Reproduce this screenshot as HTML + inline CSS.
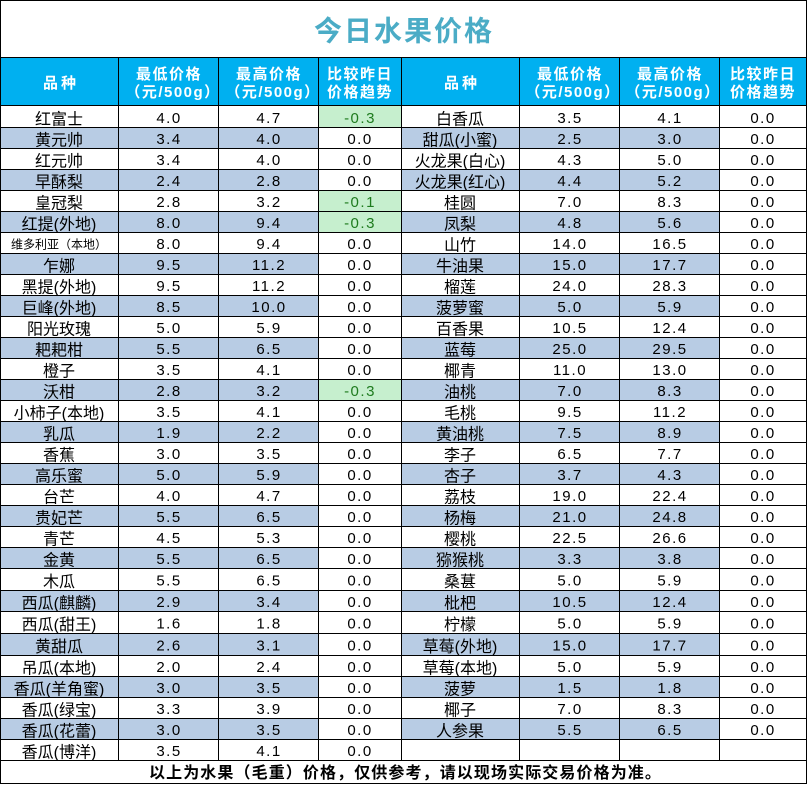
<!DOCTYPE html>
<html><head><meta charset="utf-8">
<style>
html,body{margin:0;padding:0;background:#fff;}
svg{display:block;}
.n{font-family:"Liberation Sans","Noto Sans CJK SC",sans-serif;font-size:16px;text-anchor:middle;fill:#000;}
.s{font-family:"Liberation Sans","Noto Sans CJK SC",sans-serif;font-size:12px;text-anchor:middle;fill:#000;}
.d{font-family:"Liberation Sans",sans-serif;font-size:15px;letter-spacing:1.5px;text-anchor:middle;fill:#000;}
.g{fill:#1e7b1e;}
.h{font-family:"Liberation Sans","Noto Sans CJK SC",sans-serif;font-size:15px;font-weight:bold;letter-spacing:1.5px;text-anchor:middle;fill:#fff;}
</style></head>
<body>
<svg width="808" height="785" viewBox="0 0 808 785" xmlns="http://www.w3.org/2000/svg">
<rect x="0" y="0" width="808" height="785" fill="#fff"/>
<rect x="0" y="57" width="807" height="49" fill="#00b0f0"/>
<g fill="#b8cce4">
<rect x="0" y="127" width="318" height="21"/><rect x="401" y="127" width="318" height="21"/>
<rect x="0" y="169" width="318" height="21"/><rect x="401" y="169" width="318" height="21"/>
<rect x="0" y="211" width="318" height="21"/><rect x="401" y="211" width="318" height="21"/>
<rect x="0" y="253" width="318" height="21"/><rect x="401" y="253" width="318" height="21"/>
<rect x="0" y="295" width="318" height="21"/><rect x="401" y="295" width="318" height="21"/>
<rect x="0" y="337" width="318" height="21"/><rect x="401" y="337" width="318" height="21"/>
<rect x="0" y="379" width="318" height="21"/><rect x="401" y="379" width="318" height="21"/>
<rect x="0" y="421" width="318" height="21"/><rect x="401" y="421" width="318" height="21"/>
<rect x="0" y="463" width="318" height="21"/><rect x="401" y="463" width="318" height="21"/>
<rect x="0" y="505" width="318" height="21"/><rect x="401" y="505" width="318" height="21"/>
<rect x="0" y="547" width="318" height="21"/><rect x="401" y="547" width="318" height="21"/>
<rect x="0" y="590" width="318" height="21"/><rect x="401" y="590" width="318" height="21"/>
<rect x="0" y="633" width="318" height="22"/><rect x="401" y="633" width="318" height="22"/>
<rect x="0" y="676" width="318" height="21"/><rect x="401" y="676" width="318" height="21"/>
<rect x="0" y="718" width="318" height="21"/><rect x="401" y="718" width="318" height="21"/>
</g>
<g fill="#c6efce">
<rect x="318" y="106" width="83" height="21"/>
<rect x="318" y="190" width="83" height="21"/>
<rect x="318" y="211" width="83" height="21"/>
<rect x="318" y="379" width="83" height="21"/>
</g>
<g fill="#000">
<rect x="0" y="0" width="807" height="1"/>
<rect x="0" y="57" width="807" height="1"/>
<rect x="0" y="105" width="807" height="1"/>
<rect x="0" y="127" width="807" height="1"/>
<rect x="0" y="148" width="807" height="1"/>
<rect x="0" y="169" width="807" height="1"/>
<rect x="0" y="190" width="807" height="1"/>
<rect x="0" y="211" width="807" height="1"/>
<rect x="0" y="232" width="807" height="1"/>
<rect x="0" y="253" width="807" height="1"/>
<rect x="0" y="274" width="807" height="1"/>
<rect x="0" y="295" width="807" height="1"/>
<rect x="0" y="316" width="807" height="1"/>
<rect x="0" y="337" width="807" height="1"/>
<rect x="0" y="358" width="807" height="1"/>
<rect x="0" y="379" width="807" height="1"/>
<rect x="0" y="400" width="807" height="1"/>
<rect x="0" y="421" width="807" height="1"/>
<rect x="0" y="442" width="807" height="1"/>
<rect x="0" y="463" width="807" height="1"/>
<rect x="0" y="484" width="807" height="1"/>
<rect x="0" y="505" width="807" height="1"/>
<rect x="0" y="526" width="807" height="1"/>
<rect x="0" y="547" width="807" height="1"/>
<rect x="0" y="568" width="807" height="1"/>
<rect x="0" y="590" width="807" height="1"/>
<rect x="0" y="611" width="807" height="1"/>
<rect x="0" y="633" width="807" height="1"/>
<rect x="0" y="655" width="807" height="1"/>
<rect x="0" y="676" width="807" height="1"/>
<rect x="0" y="697" width="807" height="1"/>
<rect x="0" y="718" width="807" height="1"/>
<rect x="0" y="739" width="807" height="1"/>
<rect x="0" y="760" width="807" height="1"/>
<rect x="0" y="783" width="807" height="1"/>
<rect x="0" y="0" width="1" height="784"/>
<rect x="806" y="0" width="1" height="784"/>
<rect x="118" y="57" width="1" height="704"/>
<rect x="218" y="57" width="1" height="704"/>
<rect x="318" y="57" width="1" height="704"/>
<rect x="401" y="57" width="1" height="704"/>
<rect x="519" y="57" width="1" height="704"/>
<rect x="619" y="57" width="1" height="704"/>
<rect x="719" y="57" width="1" height="704"/>
</g>
<text x="404" y="40.5" text-anchor="middle" font-family="Liberation Sans, Noto Sans CJK SC, sans-serif" font-size="28" font-weight="bold" letter-spacing="2" fill="#4bacc6">今日水果价格</text>
<text class="h" x="61" y="88" style="letter-spacing:3px">品种</text>
<text class="h" x="169" y="79">最低价格</text>
<text class="h" x="173" y="97">（元/500g）</text>
<text class="h" x="269" y="79">最高价格</text>
<text class="h" x="273" y="97">（元/500g）</text>
<text class="h" x="360" y="79">比较昨日</text>
<text class="h" x="360" y="97">价格趋势</text>
<text class="h" x="462" y="88" style="letter-spacing:3px">品种</text>
<text class="h" x="570" y="79">最低价格</text>
<text class="h" x="573" y="97">（元/500g）</text>
<text class="h" x="670" y="79">最高价格</text>
<text class="h" x="673" y="97">（元/500g）</text>
<text class="h" x="763" y="79">比较昨日</text>
<text class="h" x="763" y="97">价格趋势</text>

<g transform="translate(0,106)"><text class="n" x="59" y="18.5">红富士</text><text class="d" x="169" y="17">4.0</text><text class="d" x="269" y="17">4.7</text><text class="d g" x="360" y="17">-0.3</text><text class="n" x="460" y="18.5">白香瓜</text><text class="d" x="570" y="17">3.5</text><text class="d" x="670" y="17">4.1</text><text class="d" x="763" y="17">0.0</text></g>
<g transform="translate(0,127)"><text class="n" x="59" y="18.5">黄元帅</text><text class="d" x="169" y="17">3.4</text><text class="d" x="269" y="17">4.0</text><text class="d" x="360" y="17">0.0</text><text class="n" x="460" y="18.5">甜瓜(小蜜)</text><text class="d" x="570" y="17">2.5</text><text class="d" x="670" y="17">3.0</text><text class="d" x="763" y="17">0.0</text></g>
<g transform="translate(0,148)"><text class="n" x="59" y="18.5">红元帅</text><text class="d" x="169" y="17">3.4</text><text class="d" x="269" y="17">4.0</text><text class="d" x="360" y="17">0.0</text><text class="n" x="460" y="18.5">火龙果(白心)</text><text class="d" x="570" y="17">4.3</text><text class="d" x="670" y="17">5.0</text><text class="d" x="763" y="17">0.0</text></g>
<g transform="translate(0,169)"><text class="n" x="59" y="18.5">早酥梨</text><text class="d" x="169" y="17">2.4</text><text class="d" x="269" y="17">2.8</text><text class="d" x="360" y="17">0.0</text><text class="n" x="460" y="18.5">火龙果(红心)</text><text class="d" x="570" y="17">4.4</text><text class="d" x="670" y="17">5.2</text><text class="d" x="763" y="17">0.0</text></g>
<g transform="translate(0,190)"><text class="n" x="59" y="18.5">皇冠梨</text><text class="d" x="169" y="17">2.8</text><text class="d" x="269" y="17">3.2</text><text class="d g" x="360" y="17">-0.1</text><text class="n" x="460" y="18.5">桂圆</text><text class="d" x="570" y="17">7.0</text><text class="d" x="670" y="17">8.3</text><text class="d" x="763" y="17">0.0</text></g>
<g transform="translate(0,211)"><text class="n" x="59" y="18.5">红提(外地)</text><text class="d" x="169" y="17">8.0</text><text class="d" x="269" y="17">9.4</text><text class="d g" x="360" y="17">-0.3</text><text class="n" x="460" y="18.5">凤梨</text><text class="d" x="570" y="17">4.8</text><text class="d" x="670" y="17">5.6</text><text class="d" x="763" y="17">0.0</text></g>
<g transform="translate(0,232)"><text class="s" x="59" y="16.5">维多利亚（本地）</text><text class="d" x="169" y="17">8.0</text><text class="d" x="269" y="17">9.4</text><text class="d" x="360" y="17">0.0</text><text class="n" x="460" y="18.5">山竹</text><text class="d" x="570" y="17">14.0</text><text class="d" x="670" y="17">16.5</text><text class="d" x="763" y="17">0.0</text></g>
<g transform="translate(0,253)"><text class="n" x="59" y="18.5">乍娜</text><text class="d" x="169" y="17">9.5</text><text class="d" x="269" y="17">11.2</text><text class="d" x="360" y="17">0.0</text><text class="n" x="460" y="18.5">牛油果</text><text class="d" x="570" y="17">15.0</text><text class="d" x="670" y="17">17.7</text><text class="d" x="763" y="17">0.0</text></g>
<g transform="translate(0,274)"><text class="n" x="59" y="18.5">黑提(外地)</text><text class="d" x="169" y="17">9.5</text><text class="d" x="269" y="17">11.2</text><text class="d" x="360" y="17">0.0</text><text class="n" x="460" y="18.5">榴莲</text><text class="d" x="570" y="17">24.0</text><text class="d" x="670" y="17">28.3</text><text class="d" x="763" y="17">0.0</text></g>
<g transform="translate(0,295)"><text class="n" x="59" y="18.5">巨峰(外地)</text><text class="d" x="169" y="17">8.5</text><text class="d" x="269" y="17">10.0</text><text class="d" x="360" y="17">0.0</text><text class="n" x="460" y="18.5">菠萝蜜</text><text class="d" x="570" y="17">5.0</text><text class="d" x="670" y="17">5.9</text><text class="d" x="763" y="17">0.0</text></g>
<g transform="translate(0,316)"><text class="n" x="59" y="18.5">阳光玫瑰</text><text class="d" x="169" y="17">5.0</text><text class="d" x="269" y="17">5.9</text><text class="d" x="360" y="17">0.0</text><text class="n" x="460" y="18.5">百香果</text><text class="d" x="570" y="17">10.5</text><text class="d" x="670" y="17">12.4</text><text class="d" x="763" y="17">0.0</text></g>
<g transform="translate(0,337)"><text class="n" x="59" y="18.5">耙耙柑</text><text class="d" x="169" y="17">5.5</text><text class="d" x="269" y="17">6.5</text><text class="d" x="360" y="17">0.0</text><text class="n" x="460" y="18.5">蓝莓</text><text class="d" x="570" y="17">25.0</text><text class="d" x="670" y="17">29.5</text><text class="d" x="763" y="17">0.0</text></g>
<g transform="translate(0,358)"><text class="n" x="59" y="18.5">橙子</text><text class="d" x="169" y="17">3.5</text><text class="d" x="269" y="17">4.1</text><text class="d" x="360" y="17">0.0</text><text class="n" x="460" y="18.5">椰青</text><text class="d" x="570" y="17">11.0</text><text class="d" x="670" y="17">13.0</text><text class="d" x="763" y="17">0.0</text></g>
<g transform="translate(0,379)"><text class="n" x="59" y="18.5">沃柑</text><text class="d" x="169" y="17">2.8</text><text class="d" x="269" y="17">3.2</text><text class="d g" x="360" y="17">-0.3</text><text class="n" x="460" y="18.5">油桃</text><text class="d" x="570" y="17">7.0</text><text class="d" x="670" y="17">8.3</text><text class="d" x="763" y="17">0.0</text></g>
<g transform="translate(0,400)"><text class="n" x="59" y="18.5">小柿子(本地)</text><text class="d" x="169" y="17">3.5</text><text class="d" x="269" y="17">4.1</text><text class="d" x="360" y="17">0.0</text><text class="n" x="460" y="18.5">毛桃</text><text class="d" x="570" y="17">9.5</text><text class="d" x="670" y="17">11.2</text><text class="d" x="763" y="17">0.0</text></g>
<g transform="translate(0,421)"><text class="n" x="59" y="18.5">乳瓜</text><text class="d" x="169" y="17">1.9</text><text class="d" x="269" y="17">2.2</text><text class="d" x="360" y="17">0.0</text><text class="n" x="460" y="18.5">黄油桃</text><text class="d" x="570" y="17">7.5</text><text class="d" x="670" y="17">8.9</text><text class="d" x="763" y="17">0.0</text></g>
<g transform="translate(0,442)"><text class="n" x="59" y="18.5">香蕉</text><text class="d" x="169" y="17">3.0</text><text class="d" x="269" y="17">3.5</text><text class="d" x="360" y="17">0.0</text><text class="n" x="460" y="18.5">李子</text><text class="d" x="570" y="17">6.5</text><text class="d" x="670" y="17">7.7</text><text class="d" x="763" y="17">0.0</text></g>
<g transform="translate(0,463)"><text class="n" x="59" y="18.5">高乐蜜</text><text class="d" x="169" y="17">5.0</text><text class="d" x="269" y="17">5.9</text><text class="d" x="360" y="17">0.0</text><text class="n" x="460" y="18.5">杏子</text><text class="d" x="570" y="17">3.7</text><text class="d" x="670" y="17">4.3</text><text class="d" x="763" y="17">0.0</text></g>
<g transform="translate(0,484)"><text class="n" x="59" y="18.5">台芒</text><text class="d" x="169" y="17">4.0</text><text class="d" x="269" y="17">4.7</text><text class="d" x="360" y="17">0.0</text><text class="n" x="460" y="18.5">荔枝</text><text class="d" x="570" y="17">19.0</text><text class="d" x="670" y="17">22.4</text><text class="d" x="763" y="17">0.0</text></g>
<g transform="translate(0,505)"><text class="n" x="59" y="18.5">贵妃芒</text><text class="d" x="169" y="17">5.5</text><text class="d" x="269" y="17">6.5</text><text class="d" x="360" y="17">0.0</text><text class="n" x="460" y="18.5">杨梅</text><text class="d" x="570" y="17">21.0</text><text class="d" x="670" y="17">24.8</text><text class="d" x="763" y="17">0.0</text></g>
<g transform="translate(0,526)"><text class="n" x="59" y="18.5">青芒</text><text class="d" x="169" y="17">4.5</text><text class="d" x="269" y="17">5.3</text><text class="d" x="360" y="17">0.0</text><text class="n" x="460" y="18.5">樱桃</text><text class="d" x="570" y="17">22.5</text><text class="d" x="670" y="17">26.6</text><text class="d" x="763" y="17">0.0</text></g>
<g transform="translate(0,547)"><text class="n" x="59" y="18.5">金黄</text><text class="d" x="169" y="17">5.5</text><text class="d" x="269" y="17">6.5</text><text class="d" x="360" y="17">0.0</text><text class="n" x="460" y="18.5">猕猴桃</text><text class="d" x="570" y="17">3.3</text><text class="d" x="670" y="17">3.8</text><text class="d" x="763" y="17">0.0</text></g>
<g transform="translate(0,568.5)"><text class="n" x="59" y="18.5">木瓜</text><text class="d" x="169" y="17">5.5</text><text class="d" x="269" y="17">6.5</text><text class="d" x="360" y="17">0.0</text><text class="n" x="460" y="18.5">桑葚</text><text class="d" x="570" y="17">5.0</text><text class="d" x="670" y="17">5.9</text><text class="d" x="763" y="17">0.0</text></g>
<g transform="translate(0,590)"><text class="n" x="59" y="18.5">西瓜(麒麟)</text><text class="d" x="169" y="17">2.9</text><text class="d" x="269" y="17">3.4</text><text class="d" x="360" y="17">0.0</text><text class="n" x="460" y="18.5">枇杷</text><text class="d" x="570" y="17">10.5</text><text class="d" x="670" y="17">12.4</text><text class="d" x="763" y="17">0.0</text></g>
<g transform="translate(0,611.5)"><text class="n" x="59" y="18.5">西瓜(甜王)</text><text class="d" x="169" y="17">1.6</text><text class="d" x="269" y="17">1.8</text><text class="d" x="360" y="17">0.0</text><text class="n" x="460" y="18.5">柠檬</text><text class="d" x="570" y="17">5.0</text><text class="d" x="670" y="17">5.9</text><text class="d" x="763" y="17">0.0</text></g>
<g transform="translate(0,633.5)"><text class="n" x="59" y="18.5">黄甜瓜</text><text class="d" x="169" y="17">2.6</text><text class="d" x="269" y="17">3.1</text><text class="d" x="360" y="17">0.0</text><text class="n" x="460" y="18.5">草莓(外地)</text><text class="d" x="570" y="17">15.0</text><text class="d" x="670" y="17">17.7</text><text class="d" x="763" y="17">0.0</text></g>
<g transform="translate(0,655)"><text class="n" x="59" y="18.5">吊瓜(本地)</text><text class="d" x="169" y="17">2.0</text><text class="d" x="269" y="17">2.4</text><text class="d" x="360" y="17">0.0</text><text class="n" x="460" y="18.5">草莓(本地)</text><text class="d" x="570" y="17">5.0</text><text class="d" x="670" y="17">5.9</text><text class="d" x="763" y="17">0.0</text></g>
<g transform="translate(0,676)"><text class="n" x="59" y="18.5">香瓜(羊角蜜)</text><text class="d" x="169" y="17">3.0</text><text class="d" x="269" y="17">3.5</text><text class="d" x="360" y="17">0.0</text><text class="n" x="460" y="18.5">菠萝</text><text class="d" x="570" y="17">1.5</text><text class="d" x="670" y="17">1.8</text><text class="d" x="763" y="17">0.0</text></g>
<g transform="translate(0,697)"><text class="n" x="59" y="18.5">香瓜(绿宝)</text><text class="d" x="169" y="17">3.3</text><text class="d" x="269" y="17">3.9</text><text class="d" x="360" y="17">0.0</text><text class="n" x="460" y="18.5">椰子</text><text class="d" x="570" y="17">7.0</text><text class="d" x="670" y="17">8.3</text><text class="d" x="763" y="17">0.0</text></g>
<g transform="translate(0,718)"><text class="n" x="59" y="18.5">香瓜(花蕾)</text><text class="d" x="169" y="17">3.0</text><text class="d" x="269" y="17">3.5</text><text class="d" x="360" y="17">0.0</text><text class="n" x="460" y="18.5">人参果</text><text class="d" x="570" y="17">5.5</text><text class="d" x="670" y="17">6.5</text><text class="d" x="763" y="17">0.0</text></g>
<g transform="translate(0,739)"><text class="n" x="59" y="18.5">香瓜(博洋)</text><text class="d" x="169" y="17">3.5</text><text class="d" x="269" y="17">4.1</text><text class="d" x="360" y="17">0.0</text></g>

<text x="149" y="778" font-family="Liberation Sans, Noto Sans CJK SC, sans-serif" font-size="16" font-weight="bold" letter-spacing="1.1" fill="#000">以上为水果（毛重）价格，仅供参考，请以现场实际交易价格为准。</text>
</svg>
</body></html>
